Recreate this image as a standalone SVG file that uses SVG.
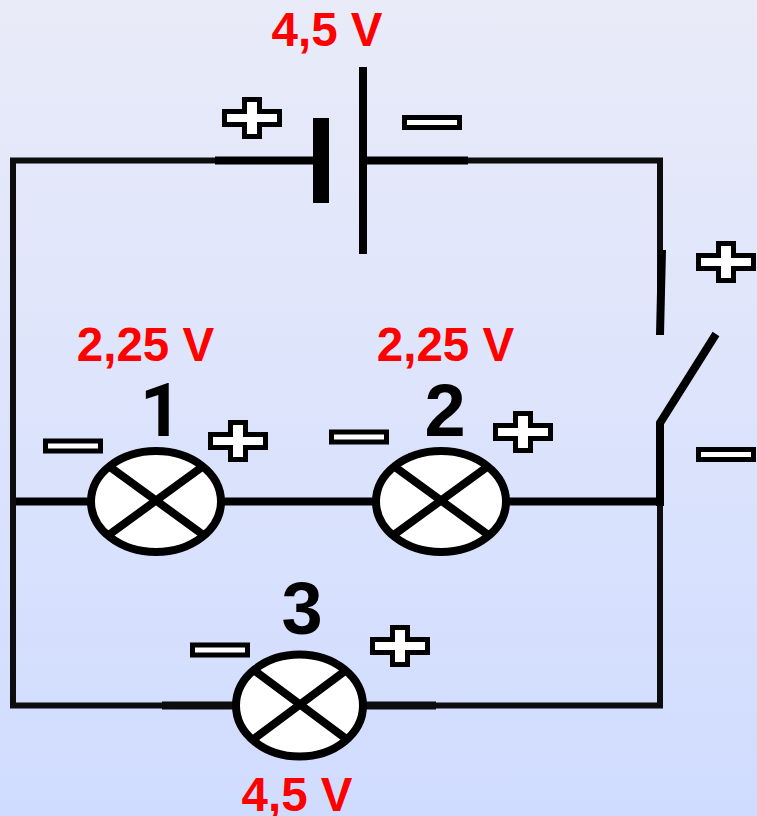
<svg xmlns="http://www.w3.org/2000/svg" width="757" height="816" viewBox="0 0 757 816">
<defs>
<linearGradient id="bg" x1="0" y1="0" x2="0" y2="1"><stop offset="0" stop-color="#e9ebf8"/><stop offset="1" stop-color="#d0dcff"/></linearGradient>
<path id="plus" d="M-27.5,-6.5H-7.5V-18.5H7.5V-6.5H27.5V6.5H7.5V18.5H-7.5V6.5H-27.5Z" class="sign"/>
<rect id="minus" x="-27.5" y="-5" width="55" height="10" class="sign"/>
</defs>
<style>
.sign{fill:#fff;stroke:#000;stroke-width:5}
.w{fill:none;stroke:#0d0d0d;stroke-width:6;stroke-linecap:butt}
.t{fill:none;stroke:#000;stroke-width:8}
.lamp{fill:#fff;stroke:#000;stroke-width:8}
.v{font-family:"Liberation Sans",Arial,sans-serif;font-weight:700;font-size:47.5px;fill:#f00;text-anchor:middle}
.n{font-family:"Liberation Sans",Arial,sans-serif;font-weight:700;font-size:74px;fill:#000;text-anchor:middle}
</style>
<rect width="757" height="816" fill="url(#bg)"/>
<g id="connectors">
<path class="w" d="M215,160.5H13V705.5H162"/>
<path class="w" d="M468,160.5H660V335"/>
<path class="w" d="M436,705.5H660V500"/>
<path class="t" d="M215,160.5H320M364,160.5H468"/>
<path class="t" d="M16,501.5H90M222,501.5H376M508,501.5H660"/>
<path class="w" d="M162,705.5H236M364,705.5H436" style="stroke-width:8"/>
<path class="t" d="M660,506V423L716,334"/>
<path class="t" d="M660,335L662,250"/>
</g>
<g id="battery">
<rect x="313" y="118" width="16" height="85" fill="#000"/>
<rect x="359" y="67" width="8" height="187" fill="#000"/>
</g>
<g id="lamp1"><ellipse class="lamp" cx="156" cy="501.5" rx="65" ry="50.5"/><path class="t" d="M110,467L202,534M202,467L110,534"/></g>
<g id="lamp2"><ellipse class="lamp" cx="441" cy="501.5" rx="65" ry="50.5"/><path class="t" d="M395,467L487,534M487,467L395,534"/></g>
<g id="lamp3"><ellipse class="lamp" cx="299.5" cy="705.5" rx="63.5" ry="51"/><path class="t" d="M255,671L345,738M345,671L255,738"/></g>
<g id="signs">
<use href="#plus" x="252" y="118"/>
<use href="#minus" x="432" y="122.5"/>
<use href="#plus" x="726" y="262"/>
<use href="#minus" x="726" y="454.5"/>
<use href="#minus" x="73" y="446"/>
<use href="#plus" x="238" y="441"/>
<use href="#minus" x="359" y="437"/>
<use href="#plus" x="523" y="432"/>
<use href="#minus" x="220" y="650"/>
<use href="#plus" x="400" y="646"/>
</g>
<g id="labels">
<text class="v" x="327" y="46">4,5 V</text>
<text class="v" x="145.5" y="361">2,25 V</text>
<text class="v" x="445.5" y="361">2,25 V</text>
<text class="v" x="297" y="811">4,5 V</text>
<text class="n" x="161" y="436" style="font-family:Roboto,'Liberation Sans',sans-serif">1</text>
<text class="n" x="445" y="436">2</text>
<text class="n" x="302" y="634">3</text>
</g>
</svg>
